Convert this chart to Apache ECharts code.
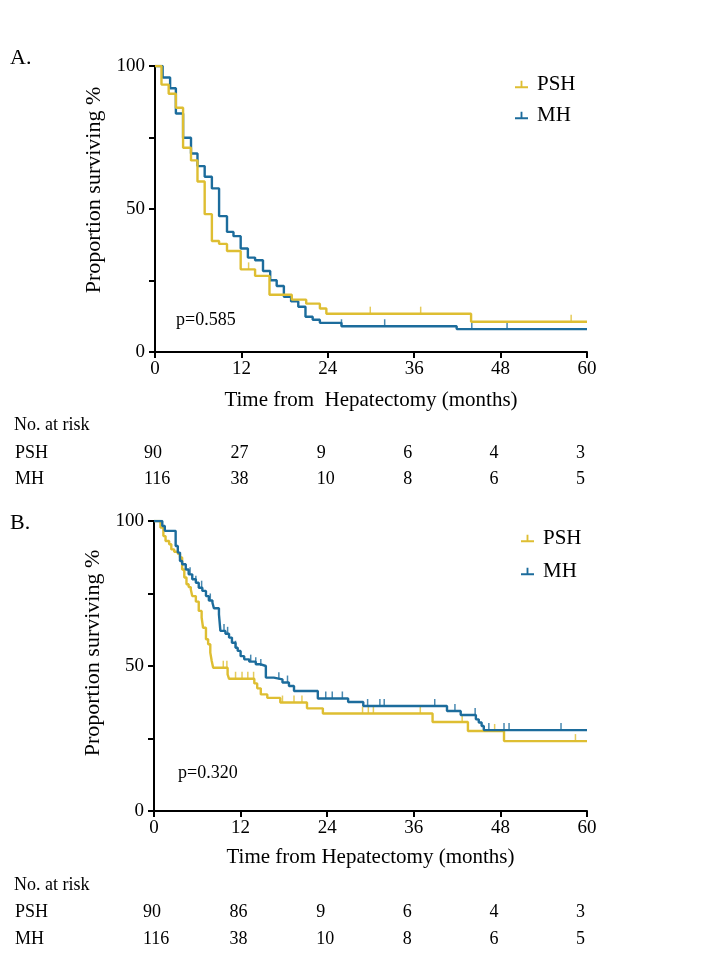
<!DOCTYPE html>
<html><head><meta charset="utf-8">
<script src="https://cdn.jsdelivr.net/npm/echarts@6/dist/echarts.min.js"></script>
<style>html,body{margin:0;padding:0;background:#fff;}#c{width:720px;height:960px;}</style>
</head><body><div id="c"></div>
<script>
// ---------- data ----------
const xTicks = [0, 12, 24, 36, 48, 60];
const groups = ['PSH', 'MH'];

// Panel A
const timeA_PSH = [0, 0.9, 1.9, 2.9, 3.9, 5.0, 5.9, 6.9, 7.9, 8.9, 10.0, 11.9, 13.9, 15.9, 19.0, 21.0, 22.9, 23.8, 43.9, 60];
const survA_PSH = [100, 93.5, 90.3, 85.4, 71.4, 67.0, 59.6, 48.2, 38.8, 37.8, 35.3, 28.9, 26.6, 20.0, 18.3, 16.9, 15.2, 13.4, 10.6, 10.6];
const censA_PSH = [13.0, 29.9, 36.9, 57.8];

const timeA_MH = [0, 1.06, 2.1, 2.9, 3.9, 5.0, 5.9, 6.9, 7.9, 8.9, 10.0, 10.9, 11.9, 12.9, 13.9, 15.0, 16.0, 16.9, 17.9, 18.9, 19.9, 20.9, 21.9, 22.9, 25.9, 41.9, 60];
const survA_MH = [100, 96.0, 92.2, 83.4, 74.9, 69.4, 65.0, 61.3, 57.2, 47.5, 42.0, 40.5, 36.2, 33.0, 32.1, 28.3, 25.1, 23.1, 19.3, 17.7, 15.8, 12.3, 11.3, 10.2, 9.0, 8.0, 8.0];
const censA_MH = [25.9, 31.9, 44.0, 48.9];

// Panel B
const timeB_PSH = [0, 0.9, 1.3, 1.6, 2.1, 2.4, 2.8, 3.3, 3.6, 3.9, 4.2, 4.5, 4.8, 5.1, 5.3, 5.8, 6.2, 6.6, 6.8, 7.2, 7.5, 7.8, 8.0, 8.2, 10.2, 10.4, 13.9, 14.3, 14.8, 15.7, 17.5, 21.2, 23.4, 38.6, 43.5, 48.5, 60];
const survB_PSH = [100, 97.7, 94.8, 93.1, 92.0, 90.2, 89.4, 88.7, 87.4, 83.3, 80.5, 78.2, 77.2, 76.4, 74.1, 72.2, 69.0, 66.7, 63.2, 59.2, 57.5, 54.6, 51.7, 49.4, 47.1, 45.6, 44.0, 42.3, 40.2, 39.0, 37.4, 35.4, 33.6, 30.7, 27.6, 24.1, 24.1];
const censB_PSH = [9.6, 10.1, 11.3, 12.2, 13.0, 13.8, 17.8, 19.4, 20.5, 28.9, 29.7, 30.4, 36.9, 42.7, 47.2, 58.4];

const timeB_MH = [0, 1.15, 1.5, 3.0, 3.3, 3.6, 3.9, 4.4, 4.8, 5.3, 5.8, 6.2, 6.7, 7.2, 7.6, 8.1, 8.3, 9.0, 9.2, 9.9, 10.4, 10.8, 11.3, 11.6, 12.0, 12.5, 13.2, 14.1, 14.8, 15.5, 16.6, 17.8, 18.7, 19.4, 22.7, 26.9, 29.0, 40.6, 42.5, 44.6, 45.0, 45.4, 45.7, 60];
const survB_MH = [100, 98.3, 96.6, 91.4, 89.1, 86.2, 85.1, 83.3, 81.6, 79.9, 78.7, 77.0, 75.9, 74.1, 72.6, 71.8, 69.9, 67.8, 62.1, 61.1, 59.8, 58.0, 56.3, 55.2, 53.4, 52.3, 51.5, 50.6, 50.0, 46.0, 45.4, 44.3, 43.1, 41.4, 38.8, 37.6, 36.2, 34.5, 33.1, 31.6, 30.5, 29.3, 27.9, 27.9];
const censB_MH = [5.0, 5.8, 6.6, 7.8, 9.7, 10.2, 11.3, 13.4, 14.1, 14.8, 17.3, 18.5, 23.8, 24.7, 26.1, 29.6, 31.3, 31.9, 38.9, 41.7, 44.5, 46.4, 48.5, 49.2, 56.4];

// numbers at risk
const riskA_PSH = [90, 27, 9, 6, 4, 3];
const riskA_MH = [116, 38, 10, 8, 6, 5];
const riskB_PSH = [90, 86, 9, 6, 4, 3];
const riskB_MH = [116, 38, 10, 8, 6, 5];

const pA = 'p=0.585';
const pB = 'p=0.320';

// ---------- helpers ----------
const F = '"Liberation Serif", "Times New Roman", serif';
const YEL = '#DEBE32';
const BLU = '#1C6C9C';
function km(t, s) { return t.map((v, i) => [v, s[i]]); }
function stepAt(t, s, x) { let v = s[0]; for (let i = 0; i < t.length; i++) { if (t[i] <= x) v = s[i]; } return v; }
function cens(t, s, c) { return c.map(x => [x, stepAt(t, s, x)]); }

const grids = [
  { left: 155, top: 66, width: 432, height: 286 },
  { left: 154, top: 521, width: 433, height: 290 }
];

function xAx(gi, name, gap) {
  return {
    gridIndex: gi, type: 'value', min: 0, max: 60, interval: 12,
    name: name, nameLocation: 'middle', nameGap: gap,
    nameTextStyle: { fontFamily: F, fontSize: 21, color: '#000' },
    axisLine: { onZero: false, lineStyle: { color: '#000', width: 2 } },
    axisTick: { length: 6, lineStyle: { color: '#000', width: 2 } },
    axisLabel: { fontFamily: F, fontSize: 19, color: '#000', margin: 8 },
    splitLine: { show: false }
  };
}
function yAx(gi, shift) {
  return {
    gridIndex: gi, type: 'value', min: 0, max: 100, interval: 25,
    name: 'Proportion surviving %', nameLocation: 'middle', nameGap: 47,
    nameTextStyle: { fontFamily: F, fontSize: 22, color: '#000', padding: [0, 0, 0, shift] },
    axisLine: { onZero: false, lineStyle: { color: '#000', width: 2 } },
    axisTick: { length: 6, lineStyle: { color: '#000', width: 2 } },
    axisLabel: { fontFamily: F, fontSize: 19, color: '#000', margin: 10,
      formatter: v => (v % 50 === 0 ? String(v) : '') },
    splitLine: { show: false }
  };
}
function lineS(gi, name, t, s, color, z) {
  return { type: 'line', name: name, xAxisIndex: gi, yAxisIndex: gi, data: km(t, s), step: 'end',
    symbol: 'none', lineStyle: { color: color, width: 2.4 }, itemStyle: { color: color }, z: z, silent: true };
}
function censS(gi, name, t, s, c, color, z) {
  return { type: 'scatter', name: name, xAxisIndex: gi, yAxisIndex: gi, data: cens(t, s, c),
    symbol: 'rect', symbolSize: [1.5, 7], symbolOffset: [0, -3.5], itemStyle: { color: color }, z: z, silent: true };
}
const ICON = 'path://M0,7h14v2H0z M6,1h2v7H6z';
function legend(left, top, gap) {
  return { data: groups, left: left, top: top, orient: 'vertical', itemGap: gap, icon: ICON,
    itemWidth: 13, itemHeight: 9, selectedMode: false,
    textStyle: { fontFamily: F, fontSize: 21, color: '#000', lineHeight: 20, padding: [0, 0, 0, 4] } };
}

const series = [
  lineS(0, 'MH', timeA_MH, survA_MH, BLU, 2),
  censS(0, 'MH', timeA_MH, survA_MH, censA_MH, BLU, 2),
  lineS(0, 'PSH', timeA_PSH, survA_PSH, YEL, 3),
  censS(0, 'PSH', timeA_PSH, survA_PSH, censA_PSH, YEL, 3),
  lineS(1, 'PSH', timeB_PSH, survB_PSH, YEL, 2),
  censS(1, 'PSH', timeB_PSH, survB_PSH, censB_PSH, YEL, 2),
  lineS(1, 'MH', timeB_MH, survB_MH, BLU, 3),
  censS(1, 'MH', timeB_MH, survB_MH, censB_MH, BLU, 3)
];

function txt(text, x, y, size, align) {
  return { type: 'text', x: x, y: y, silent: true,
    style: { text: text, font: size + 'px ' + F, fill: '#000', align: align || 'left', verticalAlign: 'middle' } };
}
function riskRow(label, vals, g, y) {
  const out = [txt(label, 15, y, 18)];
  vals.forEach((v, i) => {
    const x = g.left + (xTicks[i] / 60) * g.width - 11;
    out.push(txt(String(v), x, y, 18));
  });
  return out;
}

const graphics = [
  txt('A.', 10, 58, 22), txt('B.', 10, 523, 22),
  txt(pA, 176, 320, 18), txt(pB, 178, 773, 18),
  txt('No. at risk', 14, 425, 18), ...riskRow('PSH', riskA_PSH, grids[0], 453), ...riskRow('MH', riskA_MH, grids[0], 479),
  txt('No. at risk', 14, 885, 18), ...riskRow('PSH', riskB_PSH, grids[1], 912), ...riskRow('MH', riskB_MH, grids[1], 939)
];

const chart = echarts.init(document.getElementById('c'), null, { renderer: 'canvas' });
chart.setOption({
  animation: false,
  backgroundColor: '#fff',
  grid: grids,
  xAxis: [xAx(0, 'Time from  Hepatectomy (months)', 38), xAx(1, 'Time from Hepatectomy (months)', 36)],
  yAxis: [yAx(0, 38), yAx(1, 26)],
  legend: [legend(510, 69, 10), legend(516, 523, 12)],
  series: series,
  graphic: graphics
});
</script></body></html>
